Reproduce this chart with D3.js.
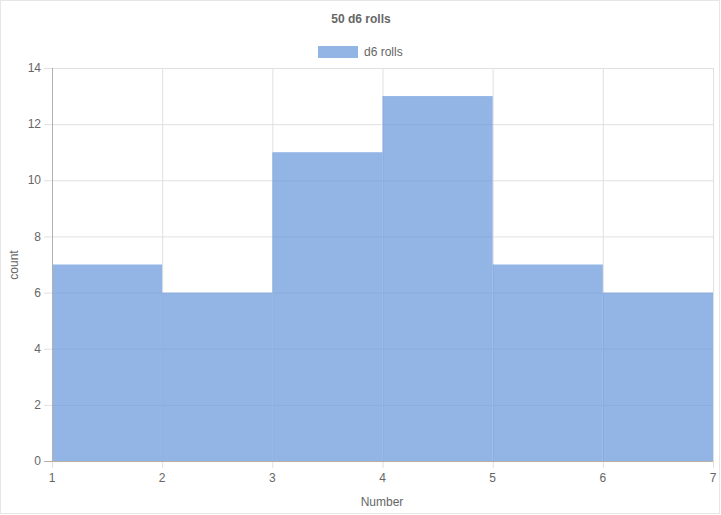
<!DOCTYPE html>
<html><head><meta charset="utf-8">
<script src="https://cdn.jsdelivr.net/npm/d3@7"></script>
<style>body{margin:0;background:#fff}svg{display:block;font-family:"Liberation Sans",Arial,Helvetica,sans-serif}</style>
</head><body>
<script>
const binStarts = [1, 2, 3, 4, 5, 6];
const binEnds = [2, 3, 4, 5, 6, 7];
const counts = [7, 6, 11, 13, 7, 6];
const yTicks = [0, 2, 4, 6, 8, 10, 12, 14];
const xTicks = [1, 2, 3, 4, 5, 6, 7];
const title = "50 d6 rolls";
const seriesName = "d6 rolls";

const W = 721, H = 515;
const svg = d3.select("body").append("svg").attr("width", W).attr("height", H);
svg.append("rect").attr("x",0.5).attr("y",0.5).attr("width",W-2).attr("height",H-2)
  .attr("fill","#fff").attr("stroke","#e6e6e6");

const x = d3.scaleLinear().domain([1,7]).range([52,713]);
const y = d3.scaleLinear().domain([0,14]).range([461,68]);

// grid
const g = svg.append("g");
g.selectAll(".gx").data(xTicks).join("line")
  .attr("x1",d=>x(d)+0.5).attr("x2",d=>x(d)+0.5).attr("y1",68).attr("y2",468)
  .attr("stroke","#e0e0e0");
g.selectAll(".gy").data(yTicks).join("line")
  .attr("x1",44).attr("x2",713).attr("y1",d=>y(d)+0.5).attr("y2",d=>y(d)+0.5)
  .attr("stroke","#e0e0e0");

// bars
const data = counts.map((c,i)=>({a:binStarts[i], b:binEnds[i], c}));
svg.append("g").selectAll("rect").data(data).join("rect")
  .attr("x",d=>x(d.a)).attr("width",d=>x(d.b)-x(d.a))
  .attr("y",d=>y(d.c)).attr("height",d=>y(0)-y(d.c))
  .attr("fill","rgba(100,149,220,0.7)");

// axis lines
svg.append("line").attr("x1",52.5).attr("x2",52.5).attr("y1",68).attr("y2",461)
  .attr("stroke","#b0b0b0");
svg.append("line").attr("x1",44).attr("x2",713).attr("y1",461.5).attr("y2",461.5)
  .attr("stroke","#b8aea4");

// tick labels
svg.append("g").selectAll("text").data(yTicks).join("text")
  .attr("x",41).attr("y",d=>y(d)).attr("dy","0.35em").attr("text-anchor","end")
  .attr("font-size",12).attr("fill","#666").text(d=>d);
svg.append("g").selectAll("text").data(xTicks).join("text")
  .attr("x",d=>x(d)).attr("y",478).attr("dy","0.35em").attr("text-anchor","middle")
  .attr("font-size",12).attr("fill","#666").text(d=>d);

// axis titles
svg.append("text").attr("x",382).attr("y",502).attr("dy","0.35em").attr("text-anchor","middle")
  .attr("font-size",12).attr("fill","#666").text("Number");
svg.append("text").attr("transform","translate(14,265) rotate(-90)").attr("dy","0.35em")
  .attr("text-anchor","middle").attr("font-size",12).attr("fill","#666").text("count");

// title
svg.append("text").attr("x",361).attr("y",19).attr("dy","0.35em").attr("text-anchor","middle")
  .attr("font-size",12).attr("font-weight","bold").attr("fill","#666").text(title);

// legend
svg.append("rect").attr("x",318).attr("y",46).attr("width",40).attr("height",12)
  .attr("fill","rgba(100,149,220,0.7)");
svg.append("text").attr("x",364).attr("y",52).attr("dy","0.35em")
  .attr("font-size",12).attr("fill","#666").text(seriesName);
</script>
</body></html>
